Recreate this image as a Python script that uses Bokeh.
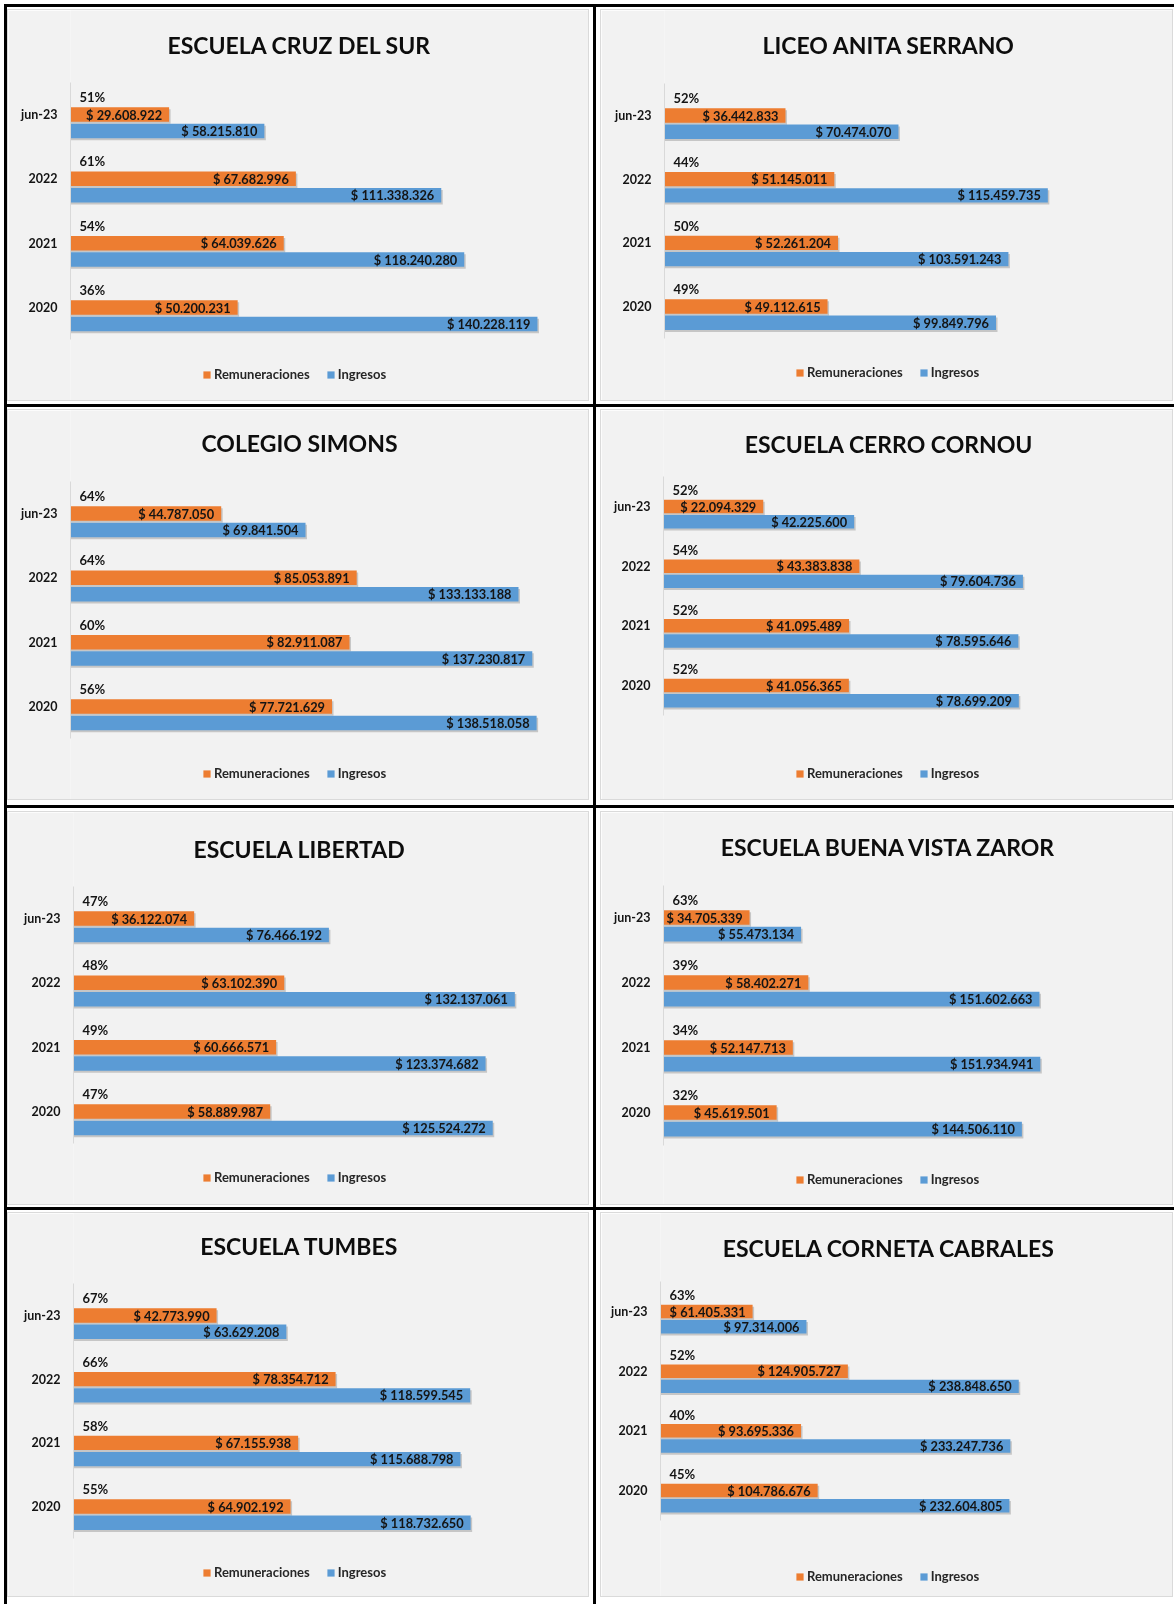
from bokeh.plotting import figure
from bokeh.layouts import row, column
from bokeh.models import (ColumnDataSource, Label, Legend, LegendItem, Range1d,
                          FixedTicker, Spacer, Div)
from bokeh.embed import file_html
from bokeh.resources import INLINE
from bokeh.core.properties import value

# ---------------- data ----------------
periods = ["2020", "2021", "2022", "jun-23"]
series_names = ["Remuneraciones", "Ingresos"]

schools = ["ESCUELA CRUZ DEL SUR", "LICEO ANITA SERRANO", "COLEGIO SIMONS",
           "ESCUELA CERRO CORNOU", "ESCUELA LIBERTAD", "ESCUELA BUENA VISTA ZAROR",
           "ESCUELA TUMBES", "ESCUELA CORNETA CABRALES"]

# values ordered as periods: 2020, 2021, 2022, jun-23
rem_cruz_del_sur = [50200231, 64039626, 67682996, 29608922]
ing_cruz_del_sur = [140228119, 118240280, 111338326, 58215810]
pct_cruz_del_sur = [36, 54, 61, 51]

rem_anita_serrano = [49112615, 52261204, 51145011, 36442833]
ing_anita_serrano = [99849796, 103591243, 115459735, 70474070]
pct_anita_serrano = [49, 50, 44, 52]

rem_simons = [77721629, 82911087, 85053891, 44787050]
ing_simons = [138518058, 137230817, 133133188, 69841504]
pct_simons = [56, 60, 64, 64]

rem_cerro_cornou = [41056365, 41095489, 43383838, 22094329]
ing_cerro_cornou = [78699209, 78595646, 79604736, 42225600]
pct_cerro_cornou = [52, 52, 54, 52]

rem_libertad = [58889987, 60666571, 63102390, 36122074]
ing_libertad = [125524272, 123374682, 132137061, 76466192]
pct_libertad = [47, 49, 48, 47]

rem_buena_vista = [45619501, 52147713, 58402271, 34705339]
ing_buena_vista = [144506110, 151934941, 151602663, 55473134]
pct_buena_vista = [32, 34, 39, 63]

rem_tumbes = [64902192, 67155938, 78354712, 42773990]
ing_tumbes = [118732650, 115688798, 118599545, 63629208]
pct_tumbes = [55, 58, 66, 67]

rem_corneta = [104786676, 93695336, 124905727, 61405331]
ing_corneta = [232604805, 233247736, 238848650, 97314006]
pct_corneta = [45, 40, 52, 63]

school_data = [
    (rem_cruz_del_sur, ing_cruz_del_sur, pct_cruz_del_sur),
    (rem_anita_serrano, ing_anita_serrano, pct_anita_serrano),
    (rem_simons, ing_simons, pct_simons),
    (rem_cerro_cornou, ing_cerro_cornou, pct_cerro_cornou),
    (rem_libertad, ing_libertad, pct_libertad),
    (rem_buena_vista, ing_buena_vista, pct_buena_vista),
    (rem_tumbes, ing_tumbes, pct_tumbes),
    (rem_corneta, ing_corneta, pct_corneta),
]

# ---------------- layout / style ----------------
FONT = "Lato"
ORANGE = "#ED7D31"
BLUE = "#5B9BD5"
BG = "#F2F2F2"
INK = "#141414"

ROW_TOP = [10, 410, 812, 1213]       # page y of each row's panel
ROW_H = [390, 389, 392, 383]
COL_LEFT = [8, 601]
COL_W = [580, 571]
TITLE_CX = [299, 888.5]              # page x of the title centres
LEGEND_X = 194                       # legend left edge inside a panel

# per panel: row, col, axis offset, title centre y, jun-23 y, 2020 y, legend centre y, px per million
LAYOUT = [
    dict(r=0, c=0, ax=62, ty=44, yj=114, y0=307, ly=374, k=3.33),
    dict(r=0, c=1, ax=63, ty=44, yj=115, y0=306, ly=372, k=3.32),
    dict(r=1, c=0, ax=62, ty=442, yj=513, y0=706, ly=773, k=3.365),
    dict(r=1, c=1, ax=62, ty=443, yj=506, y0=685, ly=773, k=4.515),
    dict(r=2, c=0, ax=65, ty=848, yj=918, y0=1111, ly=1177, k=3.34),
    dict(r=2, c=1, ax=62, ty=846, yj=917, y0=1112, ly=1179, k=2.48),
    dict(r=3, c=0, ax=65, ty=1245, yj=1315, y0=1506, ly=1572, k=3.345),
    dict(r=3, c=1, ax=59, ty=1247, yj=1311, y0=1490, ly=1576, k=1.50),
]


def money(v):
    return "$ " + f"{v:,}".replace(",", ".")


def make_panel(name, rem, ing, pct, lay):
    T, H = ROW_TOP[lay["r"]], ROW_H[lay["r"]]
    L, W = COL_LEFT[lay["c"]], COL_W[lay["c"]]
    ax = lay["ax"]
    s = (lay["y0"] - lay["yj"]) / 3.0          # px per category step
    kx = lay["k"] / 1e6                         # px per peso
    fw = W - ax
    y_end = (lay["y0"] - T) / s
    y_start = -(T + H - lay["y0"]) / s

    p = figure(width=W, height=H, x_range=Range1d(0, fw / kx),
               y_range=Range1d(y_start, y_end), x_axis_location=None,
               y_axis_location="left", toolbar_location=None, tools="",
               output_backend="svg", min_border_left=ax, min_border_right=0,
               min_border_top=0, min_border_bottom=0,
               background_fill_color=BG, border_fill_color=BG,
               outline_line_color=None,
               styles={"box-shadow": "0 0 0 1px #DADADA"})
    p.grid.grid_line_color = None

    yax = p.yaxis[0]
    yax.ticker = FixedTicker(ticks=[0, 1, 2, 3])
    yax.major_label_overrides = {i: periods[i] for i in range(4)}
    yax.bounds = (-0.5, 3.5)
    yax.axis_line_color = "#D9D9D9"
    yax.major_tick_line_color = None
    yax.minor_tick_line_color = None
    yax.major_tick_in = 0
    yax.major_tick_out = 0
    yax.major_label_standoff = 13
    yax.major_label_text_font = FONT
    yax.major_label_text_font_style = "bold"
    yax.major_label_text_font_size = "12.5px"
    yax.major_label_text_color = INK

    ys = list(range(4))
    bar_h = 0.225
    pitch = 0.255
    dx = 1.5 / kx
    dy = 2.0 / s
    src = ColumnDataSource(dict(
        y_rem=ys,
        y_ing=[y - pitch for y in ys],
        y_pct=[y + 0.27 for y in ys],
        rem=rem, ing=ing,
        rem_sh=[v + dx for v in rem], ing_sh=[v + dx for v in ing],
        y_rem_sh=[y - dy for y in ys], y_ing_sh=[y - pitch - dy for y in ys],
        rem_lbl=[money(v) for v in rem],
        ing_lbl=[money(v) for v in ing],
        pct_lbl=[f"{v}%" for v in pct],
    ))

    # soft drop shadows
    p.hbar(y="y_rem_sh", left=0, right="rem_sh", height=bar_h, source=src,
           fill_color="#000000", fill_alpha=0.18, line_color=None)
    p.hbar(y="y_ing_sh", left=0, right="ing_sh", height=bar_h, source=src,
           fill_color="#000000", fill_alpha=0.18, line_color=None)

    r_rem = p.hbar(y="y_rem", left=0, right="rem", height=bar_h, source=src,
                   fill_color=ORANGE, line_color=None)
    r_ing = p.hbar(y="y_ing", left=0, right="ing", height=bar_h, source=src,
                   fill_color=BLUE, line_color=None)

    txt = dict(source=src, text_font=value(FONT), text_font_style="bold",
               text_color=INK, text_baseline="middle")
    p.text(x="rem", y="y_rem", text="rem_lbl", text_align="right", x_offset=-7,
           text_font_size="12.8px", **txt)
    p.text(x="ing", y="y_ing", text="ing_lbl", text_align="right", x_offset=-7,
           text_font_size="12.8px", **txt)
    p.text(x=0, y="y_pct", text="pct_lbl", text_align="left", x_offset=9,
           text_font_size="13px", **txt)

    # title
    p.add_layout(Label(x=TITLE_CX[lay["c"]] - L - ax, y=(T + H) - lay["ty"],
                       x_units="screen", y_units="screen", text=name,
                       text_align="center", text_baseline="middle",
                       text_font=FONT, text_font_style="bold",
                       text_font_size="23px", text_color="#0D0D0D"))

    # legend
    item_h = 16
    legend = Legend(items=[LegendItem(label=series_names[0], renderers=[r_rem]),
                           LegendItem(label=series_names[1], renderers=[r_ing])],
                    orientation="horizontal",
                    location=(LEGEND_X - ax, (T + H) - lay["ly"] - item_h / 2.0),
                    glyph_width=9, glyph_height=9, label_standoff=3, spacing=16,
                    label_height=item_h, padding=0, margin=0,
                    label_text_font=FONT, label_text_font_style="bold",
                    label_text_font_size="13px", label_text_color="#262626",
                    background_fill_alpha=0, border_line_color=None)
    p.add_layout(legend, "center")
    return p


panels = [make_panel(schools[i], *school_data[i], LAYOUT[i]) for i in range(8)]

# table rules (black cell borders), page coordinates
RULES = [(4, 4, 1170, 3), (4, 4, 3, 1600), (593, 4, 3, 1600),
         (4, 404, 1170, 3), (4, 805, 1170, 3), (4, 1207, 1170, 3)]
rules_html = "".join(
    f'<div style="position:fixed;left:{x}px;top:{y}px;width:{w}px;height:{h}px;'
    f'background:#000;"></div>' for (x, y, w, h) in RULES)
rules = Div(text=rules_html, width=1160, height=ROW_TOP[0], margin=0)


def gap(w=None, h=None):
    return Spacer(width=w if w else 1, height=h if h else 1)


def panel_row(a, b):
    return row(gap(w=COL_LEFT[0]), a, gap(w=COL_LEFT[1] - COL_LEFT[0] - COL_W[0]), b)


root = column(
    rules,
    panel_row(panels[0], panels[1]),
    gap(h=ROW_TOP[1] - ROW_TOP[0] - ROW_H[0]),
    panel_row(panels[2], panels[3]),
    gap(h=ROW_TOP[2] - ROW_TOP[1] - ROW_H[1]),
    panel_row(panels[4], panels[5]),
    gap(h=ROW_TOP[3] - ROW_TOP[2] - ROW_H[2]),
    panel_row(panels[6], panels[7]),
)

open("out.html", "w").write(file_html(root, INLINE, title="Remuneraciones e Ingresos"))
